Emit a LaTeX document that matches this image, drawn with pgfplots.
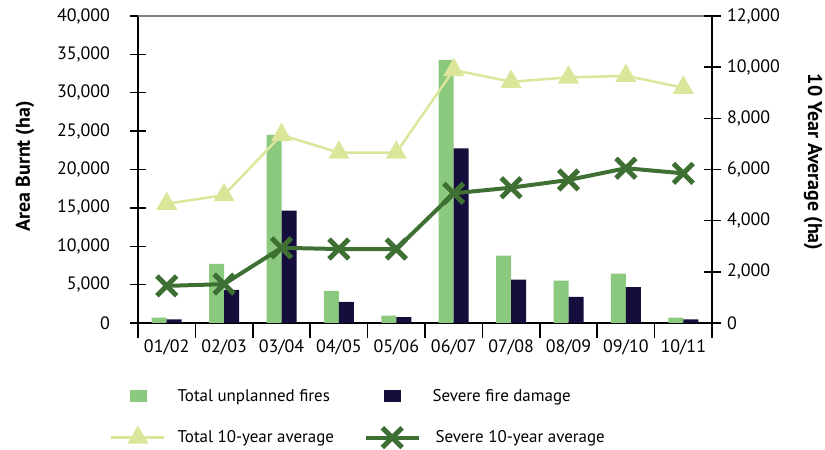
\documentclass[border=0pt]{standalone}
\usepackage{pgfplots}
\pgfplotsset{compat=1.18}
\usepackage{fontspec}
\setmainfont{PT Sans}
\definecolor{barGreen}{RGB}{139,201,127}
\definecolor{barNavy}{RGB}{21,14,60}
\definecolor{lineLight}{RGB}{220,230,155}
\definecolor{lineDark}{RGB}{62,112,52}
\pgfplotsset{
  common/.style={
    scale only axis, width=574bp, height=307bp,
    at={(138bp,127bp)}, anchor=south west,
    xmin=-0.5, xmax=9.5,
    tick align=center,
    scaled ticks=false,
    /pgf/number format/.cd, 1000 sep={,}, assume math mode=true, /pgfplots/.cd,
    tick label style={font=\fontsize{18}{20}\selectfont},
    label style={font=\bfseries\fontsize{20}{22}\selectfont},
  }
}
\begin{document}
\begin{tikzpicture}
\useasboundingbox (0,0) rectangle (825bp,450bp);
\begin{axis}[common,
  axis y line*=left, axis x line*=bottom,
  axis line style={line width=2pt, black, -},
  ymin=0, ymax=40000, ytick={0,5000,...,40000},
  major tick length=15bp, minor tick length=15bp,
  every tick/.style={black, line width=1.5pt},
  yticklabel style={xshift=-17bp},
  xticklabel style={yshift=2bp},
  xtick={0,...,9},
  xticklabels={01/02,02/03,03/04,04/05,05/06,06/07,07/08,08/09,09/10,10/11},
  major x tick style={draw=none},
  minor xtick={-0.5,0.5,...,9.5},
  ylabel={Area Burnt (ha)},
  ylabel style={at={(axis description cs:-0.197,0.51)}, anchor=center, rotate=0},
  ybar=0pt, bar width=15bp,
]
\addplot[fill=barGreen, draw=none] coordinates {(0,700) (1,7700) (2,24500) (3,4200) (4,950) (5,34270) (6,8770) (7,5510) (8,6420) (9,690)};
\addplot[fill=barNavy, draw=none] coordinates {(0,480) (1,4300) (2,14650) (3,2740) (4,780) (5,22760) (6,5640) (7,3390) (8,4690) (9,480)};
\draw[gray, line width=1.2pt] (rel axis cs:0,1) -- (rel axis cs:1,1);
\end{axis}
\begin{axis}[common,
  axis y line*=right, axis x line=none,
  axis line style={line width=2pt, black, -},
  ymin=0, ymax=12000, ytick={0,2000,...,12000},
  major tick length=17bp,
  every tick/.style={black, line width=1.5pt},
  yticklabel style={xshift=3bp},
  ylabel={10 Year Average (ha)},
  ylabel style={at={(axis description cs:1.176,0.524)}, anchor=center, rotate=180},
  legend columns=2,
  legend style={at={(axis description cs:-0.0488,-0.215)}, anchor=north west,
    draw=none, fill=none, inner sep=0pt, column sep=12bp, row sep=25bp,
    font=\fontsize{17}{19}\selectfont, nodes={inner sep=0pt, anchor=west}},
  legend image code/.code={\draw[#1, mark repeat=2, mark phase=2] plot coordinates {(0bp,0bp) (26.5bp,0bp) (53bp,0bp)};},
]
\addlegendimage{legend image code/.code={\fill[barGreen] (18.5bp,-5.5bp) rectangle (34.5bp,5.5bp);}}
\addlegendentry{\makebox[174bp][l]{Total unplanned fires}}
\addlegendimage{legend image code/.code={\fill[barNavy] (18.5bp,-5.5bp) rectangle (34.5bp,5.5bp);}}
\addlegendentry{Severe fire damage}
\addplot[lineLight, line width=2.5pt, mark=triangle*, mark size=9.8pt, mark options={solid}] coordinates {(0,4660) (1,5000) (2,7350) (3,6660) (4,6660) (5,9890) (6,9430) (7,9600) (8,9660) (9,9200)};
\addlegendentry{\makebox[174bp][l]{Total 10-year average}}
\addplot[lineDark, line width=4pt, mark=x, mark size=14pt, mark options={line width=5pt}] coordinates {(0,1450) (1,1520) (2,2940) (3,2890) (4,2890) (5,5070) (6,5290) (7,5590) (8,6050) (9,5850)};
\addlegendentry{\hspace{3bp}Severe 10-year average}
\end{axis}
\end{tikzpicture}
\end{document}
